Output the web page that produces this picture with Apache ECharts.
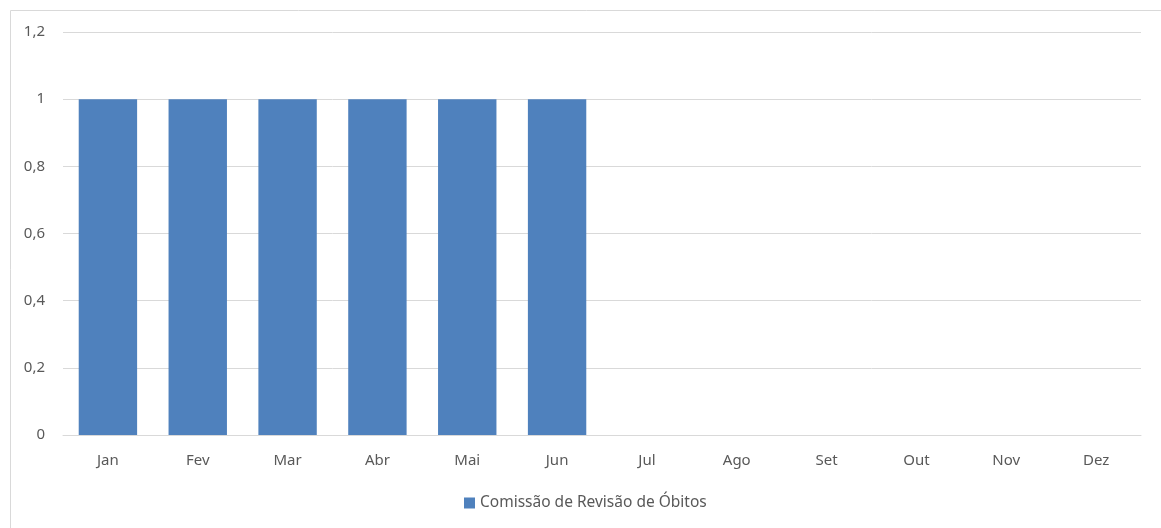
<!DOCTYPE html>
<html><head><meta charset="utf-8">
<script src="https://cdn.jsdelivr.net/npm/echarts@6/dist/echarts.min.js"></script>
<style>html,body{margin:0;padding:0;background:#fff}#c{width:1161px;height:528px}</style>
</head><body><div id="c"></div>
<script>
const categories = ['Jan','Fev','Mar','Abr','Mai','Jun','Jul','Ago','Set','Out','Nov','Dez'];
const seriesName = 'Comissão de Revisão de Óbitos';
const values = [1,1,1,1,1,1,0,0,0,0,0,0];
const yTicks = {min:0, max:1.2, interval:0.2};
const font = 'Noto Sans';
const chart = echarts.init(document.getElementById('c'));
chart.setOption({
  animation:false,
  graphic:[{type:'rect',left:8,top:8,shape:{width:1200,height:600},style:{fill:null,stroke:'#d9d9d9',lineWidth:1},silent:true}],
  grid:{left:63,right:20,top:32,bottom:93,containLabel:false},
  legend:{top:490,left:459,itemWidth:11,itemHeight:11,icon:'rect',itemGap:6,
    textStyle:{color:'#595959',fontFamily:font,fontSize:15.5},data:[seriesName]},
  xAxis:{type:'category',data:categories,
    axisLine:{lineStyle:{color:'#d9d9d9',width:1}},axisTick:{show:false},
    axisLabel:{color:'#595959',fontFamily:font,fontSize:15,margin:18}},
  yAxis:{type:'value',min:yTicks.min,max:yTicks.max,interval:yTicks.interval,
    axisLine:{show:false},axisTick:{show:false},
    splitLine:{lineStyle:{color:'#d9d9d9',width:1}},
    axisLabel:{color:'#595959',fontFamily:font,fontSize:15,margin:18,
      formatter:v=>String(Math.round(v*10)/10).replace('.',',')}},
  series:[{name:seriesName,type:'bar',data:values,barCategoryGap:'35%',
    itemStyle:{color:'#4f81bd'}}]
});
</script></body></html>
